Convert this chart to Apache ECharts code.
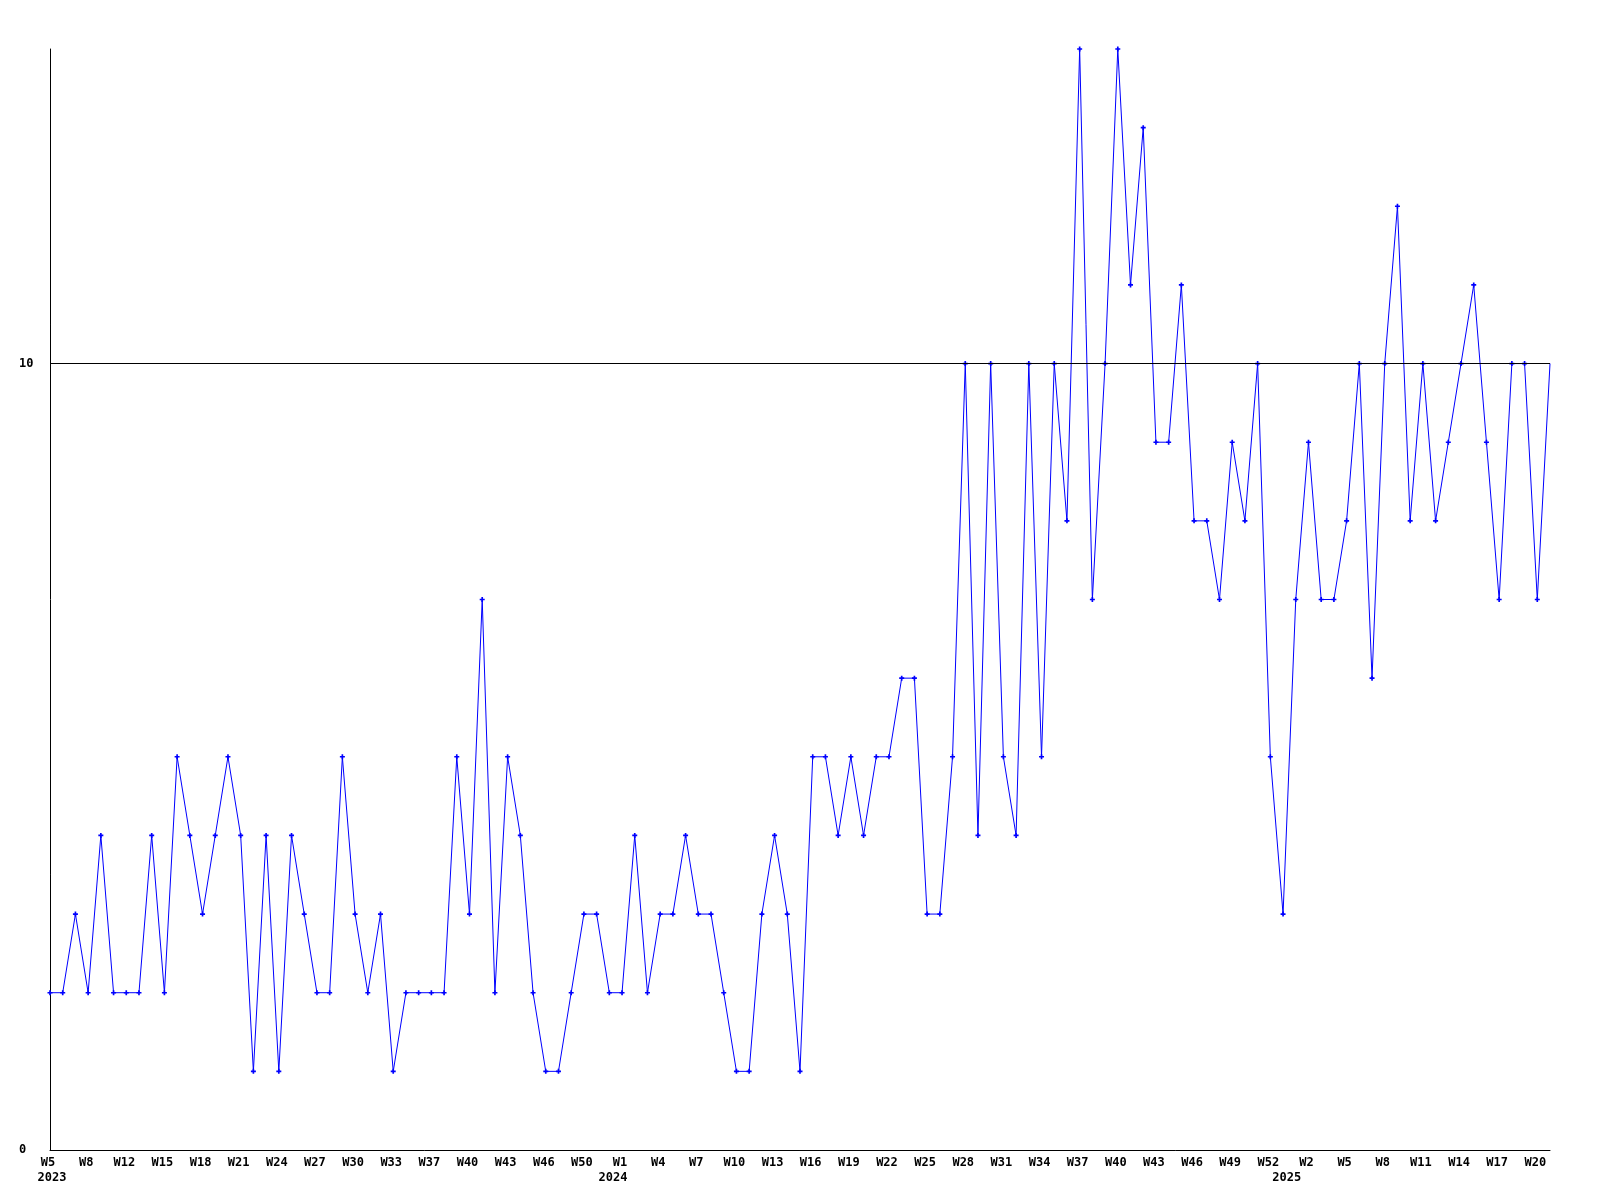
<!DOCTYPE html>
<html>
<head>
<meta charset="utf-8">
<script src="https://cdn.jsdelivr.net/npm/echarts@6/dist/echarts.min.js"></script>
<style>html,body{margin:0;padding:0;background:#fff}#c{width:1600px;height:1200px}</style>
</head>
<body>
<div id="c"></div>
<script>
// Category labels: "year week"
const categories = [
  '2023 W5','2023 W6','2023 W7','2023 W8','2023 W9','2023 W10','2023 W12','2023 W13','2023 W14','2023 W15',
  '2023 W16','2023 W17','2023 W18','2023 W19','2023 W20','2023 W21','2023 W22','2023 W23','2023 W24','2023 W25',
  '2023 W26','2023 W27','2023 W28','2023 W29','2023 W30','2023 W31','2023 W32','2023 W33','2023 W34','2023 W35',
  '2023 W37','2023 W38','2023 W39','2023 W40','2023 W41','2023 W42','2023 W43','2023 W44','2023 W45','2023 W46',
  '2023 W47','2023 W48','2023 W50','2023 W51','2023 W52',
  '2024 W1','2024 W2','2024 W3','2024 W4','2024 W5','2024 W6','2024 W7','2024 W8','2024 W9','2024 W10',
  '2024 W11','2024 W12','2024 W13','2024 W14','2024 W15','2024 W16','2024 W17','2024 W18','2024 W19','2024 W20',
  '2024 W21','2024 W22','2024 W23','2024 W24','2024 W25','2024 W26','2024 W27','2024 W28','2024 W29','2024 W30',
  '2024 W31','2024 W32','2024 W33','2024 W34','2024 W35','2024 W36','2024 W37','2024 W38','2024 W39','2024 W40',
  '2024 W41','2024 W42','2024 W43','2024 W44','2024 W45','2024 W46','2024 W47','2024 W48','2024 W49','2024 W50',
  '2024 W51','2024 W52','2024 W53',
  '2025 W1','2025 W2','2025 W3','2025 W4','2025 W5','2025 W6','2025 W7','2025 W8','2025 W9','2025 W10',
  '2025 W11','2025 W12','2025 W13','2025 W14','2025 W15','2025 W16','2025 W17','2025 W18','2025 W19','2025 W20',
  '2025 W21'
];

const values = [
  2,2,3,2,4,2,2,2,4,2,
  5,4,3,4,5,4,1,4,1,4,
  3,2,2,5,3,2,3,1,2,2,
  2,2,5,3,7,2,5,4,2,1,
  1,2,3,3,2,2,4,2,3,3,
  4,3,3,2,1,1,3,4,3,1,
  5,5,4,5,4,5,5,6,6,3,
  3,5,10,4,10,5,4,10,5,10,
  8,14,7,10,14,11,13,9,9,11,
  8,8,7,9,8,10,5,3,7,9,
  7,7,8,10,6,10,12,8,10,8,
  9,10,11,9,7,10,10,7,10
];

const yMin = 0, yMax = 14, yLabelValues = [0, 10];
const gridLineValue = 10;
const labelEvery = 3;

function yearOf(i) { return categories[i].split(' ')[0]; }
function isYearStart(i) { return i === 0 || yearOf(i) !== yearOf(i - 1); }

const chart = echarts.init(document.getElementById('c'), null, {renderer: 'canvas'});
const font = '"DejaVu Sans Mono", monospace';

chart.setOption({
  animation: false,
  backgroundColor: '#ffffff',
  grid: {left: 50, right: 50, top: 49, bottom: 50, containLabel: false},
  xAxis: {
    type: 'category',
    data: categories,
    boundaryGap: false,
    axisLine: {show: true, lineStyle: {color: '#000', width: 1}},
    axisTick: {show: false},
    splitLine: {show: false},
    axisLabel: {
      interval: function (i) { return i % labelEvery === 0 || isYearStart(i); },
      formatter: function (value, i) {
        const parts = value.split(' ');
        const w = (i % labelEvery === 0) ? '{w|' + parts[1] + '}' : '';
        if (!isYearStart(i)) return w;
        const ys = i === 0 ? 'y0' : 'y';
        return w + '\n{' + ys + '|' + parts[0] + '}';
      },
      color: '#000',
      fontFamily: font,
      fontWeight: 'bold',
      fontSize: 12,
      lineHeight: 15,
      margin: 5,
      rich: {
        w: {fontFamily: font, fontWeight: 'bold', fontSize: 12, color: '#000', lineHeight: 15, padding: [0, 4, 0, 0]},
        y0: {fontFamily: font, fontWeight: 'bold', fontSize: 12, color: '#000', lineHeight: 15, padding: [0, 0, 0, 4]},
        y: {fontFamily: font, fontWeight: 'bold', fontSize: 12, color: '#000', lineHeight: 15, padding: [0, 18, 0, 0]}
      }
    }
  },
  yAxis: {
    type: 'value',
    min: yMin,
    max: yMax,
    interval: 10,
    axisLine: {show: true, lineStyle: {color: '#000', width: 1}},
    axisTick: {show: false},
    splitLine: {show: false},
    axisLabel: {
      showMaxLabel: false,
      formatter: function (v) { return yLabelValues.indexOf(v) >= 0 ? String(v) : ''; },
      align: 'left',
      margin: 31,
      color: '#000',
      fontFamily: font,
      fontWeight: 'bold',
      fontSize: 12
    }
  },
  series: [{
    type: 'line',
    data: values,
    lineStyle: {color: '#0000ff', width: 1},
    itemStyle: {color: '#0000ff'},
    symbol: function (v, p) { return p.dataIndex === values.length - 1 ? 'none' : 'path://M1,0H2V1H3V2H2V3H1V2H0V1H1Z'; },
    symbolSize: 5,
    showAllSymbol: true,
    clip: false,
    markLine: {
      silent: true,
      symbol: ['none', 'none'],
      label: {show: false},
      lineStyle: {color: '#000', width: 1, type: 'solid'},
      data: [{yAxis: gridLineValue}]
    }
  }]
});
</script>
</body>
</html>
